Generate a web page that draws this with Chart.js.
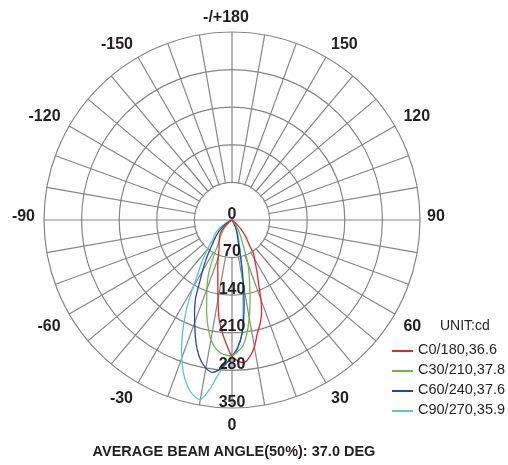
<!DOCTYPE html>
<html><head><meta charset="utf-8">
<script src="https://cdn.jsdelivr.net/npm/chart.js@4.4.1/dist/chart.umd.min.js"></script>
<style>
html,body{margin:0;padding:0;background:#fff;}
#wrap{position:relative;width:508px;height:465px;overflow:hidden;font-family:"Liberation Sans",Arial,sans-serif;color:#231f20;}
canvas{position:absolute;left:0;top:0;}
#unit{position:absolute;left:440px;top:317px;font-size:14px;line-height:17px;}
#legend{position:absolute;left:392px;top:339px;}
.row{height:20px;font-size:14.5px;line-height:20px;white-space:nowrap;}
.sw{display:inline-block;width:21px;height:1.5px;vertical-align:middle;margin-right:5px;position:relative;top:1px;}
#caption{position:absolute;left:0;width:468px;text-align:center;top:443px;font-weight:bold;font-size:14.5px;}
</style></head><body>
<div id="wrap"><canvas id="c" width="508" height="465"></canvas>
<div id="unit">UNIT:cd</div><div id="legend"></div>
<div id="caption">AVERAGE BEAM ANGLE(50%): 37.0 DEG</div></div>
<script>
// gamma angles (deg, 0 = straight down, + to the right)
const ANGLES = [-85,-82.5,-80,-77.5,-75,-72.5,-70,-67.5,-65,-62.5,-60,-57.5,-55,-52.5,-50,-47.5,-45,-42.5,-40,-37.5,-35,-32.5,-30,-27.5,-25,-22.5,-20,-17.5,-15,-12.5,-10,-7.5,-5,-2.5,0,2.5,5,7.5,10,12.5,15,17.5,20,22.5,25,27.5,30,32.5,35,37.5,40,42.5,45,47.5,50,52.5,55];
// intensities (cd)
const C0_180  = [0,0,0,0,0,0,0,0,0,0,0,0,3,8,14,20,27,31,35,38,41,44,48,52,57,64,76,88,102,122,150,185,210,232,254,263,266,256,240,217,201,183,157,130,112,96,84,75,55,46,38,30,22,14,8,0,0];
const C30_210 = [0,0,0,0,0,0,0,0,0,0,0,0,0,4,8,12,17,22,27,32,37,43,50,70,95,118,136,157,182,205,226,240,248,252,253,245,235,213,185,155,128,106,86,62,44,36,28,21,15,10,5,0,0,0,0,0,0];
const C60_240 = [0,0,0,0,0,0,0,2,4,7,10,14,18,24,30,36,42,48,55,65,78,93,110,130,160,182,203,227,250,268,280,286,280,268,254,238,213,172,122,80,48,35,28,22,17,12,8,4,0,0,0,0,0,0,0,0,0];
const C90_270 = [0,0,0,0,0,0,0,3,8,14,20,26,32,38,42,46,50,60,70,85,100,118,145,180,212,244,274,300,320,334,339,318,288,270,254,240,212,158,110,80,58,45,35,27,20,14,8,4,0,0,0,0,0,0,0,0,0];
const SERIES_NAMES = ['C0/180,36.6','C30/210,37.8','C60/240,37.6','C90/270,35.9'];
const SERIES_COLORS = ['#e4262b','#6cb94a','#1f4c9e','#5cc4d6'];
const SERIES_DATA = [C0_180, C30_210, C60_240, C90_270];
const RING_VALUES = [0,70,140,210,280,350];
const ANGLE_MARKS = [0,30,60,90,120,150,180,-150,-120,-90,-60,-30];
const ANGLE_TEXT = ['0','30','60','90','120','150','-/+180','-150','-120','-90','-60','-30'];

const GRID = '#858585';
const STEP = 2.5, N = 360 / STEP;
const thetaOf = i => { let t = -i * STEP; if (t <= -180) t += 360; return t; };
const idxOf = a => ((Math.round(-a / STEP) % N) + N) % N;
const labels = Array.from({length: N}, (_, i) => String(thetaOf(i)));
const expand = vals => labels.map((_, i) => { const k = ANGLES.indexOf(thetaOf(i)); return k >= 0 ? vals[k] : 0; });

const polarDecor = {
  id: 'polarDecor',
  beforeDatasetsDraw(chart) {
    const s = chart.scales.r, ctx = chart.ctx;
    const r70 = s.getDistanceFromCenterForValue(RING_VALUES[1]);
    ctx.save();
    ctx.fillStyle = '#fff';
    ctx.beginPath(); ctx.arc(s.xCenter, s.yCenter, r70 - 0.9, 0, Math.PI * 2); ctx.fill();
    const a = s.getPointPosition(idxOf(-90), r70), b = s.getPointPosition(idxOf(90), r70);
    ctx.strokeStyle = GRID; ctx.lineWidth = 1.2;
    ctx.beginPath(); ctx.moveTo(a.x, a.y); ctx.lineTo(b.x, b.y); ctx.stroke();
    ctx.restore();
  },
  afterDatasetsDraw(chart) {
    const s = chart.scales.r, ctx = chart.ctx;
    ctx.save();
    ctx.fillStyle = '#231f20';
    ctx.font = 'bold 16px "Liberation Sans", Arial, sans-serif';
    ctx.textAlign = 'center'; ctx.textBaseline = 'alphabetic';
    RING_VALUES.forEach(v => {
      ctx.fillText(String(v), s.xCenter, s.yCenter + s.getDistanceFromCenterForValue(v) - 1.5);
    });
    const R = s.drawingArea + 10, cap = 11.5;
    ANGLE_MARKS.forEach((m, k) => {
      const p = s.getPointPosition(idxOf(m), R);
      const deg = ((180 - m) % 360 + 360) % 360;
      ctx.textAlign = (deg === 0 || deg === 180) ? 'center' : (deg < 180 ? 'left' : 'right');
      let y, x = p.x;
      if (deg === 90 || deg === 270) { y = p.y + 1; x += (deg === 90 ? -3 : 1); }
      else if (deg < 90 || deg > 270) y = p.y;
      else y = p.y + cap;
      if (deg === 0) x -= 6;
      ctx.fillText(ANGLE_TEXT[k], x, y);
    });
    ctx.restore();
  }
};

new Chart(document.getElementById('c'), {
  type: 'radar',
  data: {
    labels,
    datasets: SERIES_DATA.map((d, i) => ({
      label: SERIES_NAMES[i], data: expand(d),
      borderColor: SERIES_COLORS[i], backgroundColor: 'transparent', fill: false
    }))
  },
  options: {
    responsive: false, animation: false,
    layout: { padding: { left: 44, top: 32, right: 88, bottom: 57 } },
    plugins: { legend: { display: false }, tooltip: { enabled: false } },
    elements: { point: { radius: 0, hitRadius: 0 }, line: { borderWidth: 1.3, tension: 0.3 } },
    scales: {
      r: {
        min: 0, max: 350, startAngle: 180,
        ticks: { stepSize: 70, display: false },
        grid: { circular: true, color: GRID, lineWidth: 1.2 },
        angleLines: { display: true, lineWidth: 1.2, color: c => (c.index % 4 === 0 ? GRID : 'rgba(0,0,0,0)') },
        pointLabels: { display: false }
      }
    }
  },
  plugins: [polarDecor]
});

const lg = document.getElementById('legend');
SERIES_NAMES.forEach((n, i) => {
  const row = document.createElement('div'); row.className = 'row';
  const sw = document.createElement('span'); sw.className = 'sw'; sw.style.backgroundColor = SERIES_COLORS[i];
  row.appendChild(sw); row.appendChild(document.createTextNode(n)); lg.appendChild(row);
});
</script>
</body></html>
